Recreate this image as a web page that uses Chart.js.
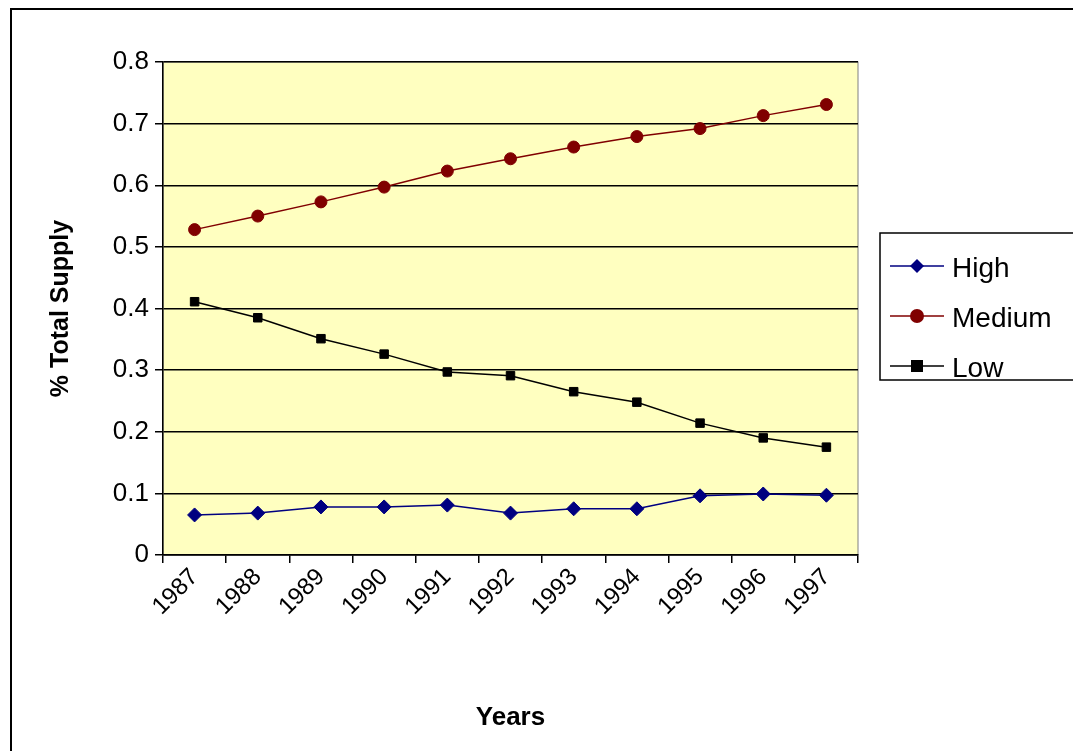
<!DOCTYPE html>
<html>
<head>
<script src="https://cdn.jsdelivr.net/npm/chart.js@4"></script>
<style>
  body { margin: 0; background: #fff; }
  #wrap { position: relative; width: 1073px; height: 751px; }
  #frame { position: absolute; left: 10px; top: 8px; width: 1070px; height: 750px; border: 2px solid #000; box-sizing: border-box; }
</style>
</head>
<body>
<div id="wrap">
  <div id="frame"></div>
  <canvas id="chart" width="1073" height="751"></canvas>
</div>
<script>
var years = ["1987","1988","1989","1990","1991","1992","1993","1994","1995","1996","1997"];
var high = [0.065,0.068,0.078,0.078,0.081,0.068,0.075,0.075,0.096,0.099,0.097];
var medium = [0.528,0.55,0.573,0.597,0.623,0.643,0.662,0.679,0.692,0.713,0.731];
var low = [0.411,0.385,0.351,0.326,0.297,0.291,0.265,0.248,0.214,0.19,0.175];

var FONT = "'Liberation Sans', Arial, sans-serif";

// plot background + box legend
var plotBg = {
  id: 'plotBg',
  beforeDraw: function (chart) {
    var a = chart.chartArea, c = chart.ctx;
    c.save();
    c.fillStyle = '#FFFFC0';
    c.fillRect(a.left, a.top, a.right - a.left, a.bottom - a.top);
    c.strokeStyle = '#808080';
    c.lineWidth = 1;
    c.strokeRect(a.left, a.top, a.right - a.left, a.bottom - a.top);
    c.restore();
  },
  afterDraw: function (chart) {
    var c = chart.ctx;
    var x = 880, y = 233, w = 200, h = 147;
    c.save();
    c.fillStyle = '#fff';
    c.fillRect(x, y, w, h);
    c.strokeStyle = '#000';
    c.lineWidth = 1.5;
    c.strokeRect(x, y, w, h);
    c.font = '28px ' + FONT;
    c.textBaseline = 'middle';
    chart.data.datasets.forEach(function (ds, i) {
      var ly = y + 33 + i * 50;
      c.strokeStyle = ds.borderColor;
      c.lineWidth = 1.5;
      c.beginPath(); c.moveTo(x + 10, ly); c.lineTo(x + 64, ly); c.stroke();
      c.fillStyle = ds.borderColor;
      var r = 7, cx = x + 37;
      c.beginPath();
      if (ds.pointStyle === 'rectRot') {
        c.moveTo(cx, ly - r); c.lineTo(cx + r, ly); c.lineTo(cx, ly + r); c.lineTo(cx - r, ly);
      } else if (ds.pointStyle === 'rect') {
        c.rect(cx - r + 1, ly - r + 1, 2 * r - 2, 2 * r - 2);
      } else {
        c.arc(cx, ly, r, 0, Math.PI * 2);
      }
      c.fill();
      c.fillStyle = '#000';
      c.fillText(ds.label, x + 72, ly + 3);
    });
    c.restore();
  }
};

new Chart(document.getElementById('chart'), {
  type: 'line',
  data: {
    labels: years,
    datasets: [
      { label: 'High', data: high, borderColor: '#000080', backgroundColor: '#000080', pointStyle: 'rectRot', pointRadius: 7 },
      { label: 'Medium', data: medium, borderColor: '#800000', backgroundColor: '#800000', pointStyle: 'circle', pointRadius: 6 },
      { label: 'Low', data: low, borderColor: '#000000', backgroundColor: '#000000', pointStyle: 'rect', pointRadius: 6 }
    ]
  },
  options: {
    responsive: false,
    animation: false,
    elements: { line: { borderWidth: 1.5, tension: 0 } },
    layout: { padding: { left: 42, top: 62, right: 215, bottom: 14 } },
    plugins: { legend: { display: false }, tooltip: { enabled: false } },
    scales: {
      x: {
        offset: true,
        grid: { offset: true, drawOnChartArea: false, color: '#000', tickLength: 8, lineWidth: 1.5 },
        border: { color: '#000', width: 1.5 },
        ticks: { color: '#000', font: { family: FONT, size: 24 }, maxRotation: 45, minRotation: 45, padding: 0 },
        title: { display: true, text: 'Years', color: '#000', font: { family: FONT, size: 26, weight: 'bold' }, padding: { top: 30 } },
        afterFit: function (s) { s.height = 182; }
      },
      y: {
        min: 0, max: 0.8,
        ticks: { stepSize: 0.1, color: '#000', font: { family: FONT, size: 26 }, padding: 6 },
        grid: { color: '#000', lineWidth: 1.5, tickLength: 8 },
        border: { color: '#000', width: 1.5 },
        title: { display: true, text: '% Total Supply', color: '#000', font: { family: FONT, size: 25, weight: 'bold' } },
        afterFit: function (s) { s.width = 121; }
      }
    }
  },
  plugins: [plotBg]
});
</script>
</body>
</html>
